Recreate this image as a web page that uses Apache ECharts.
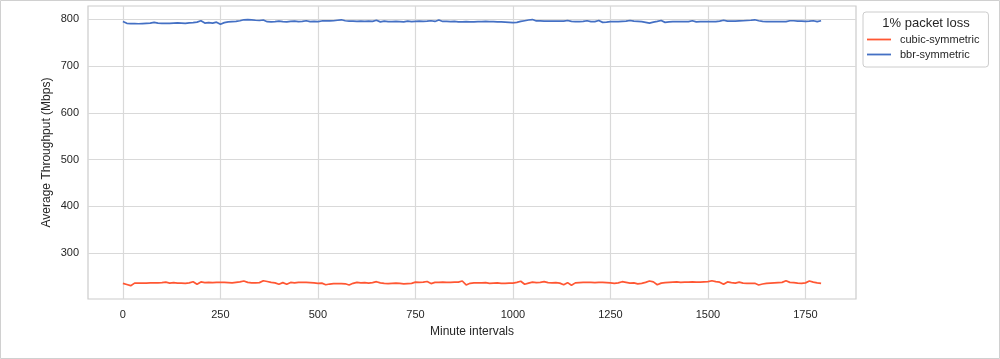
<!DOCTYPE html>
<html><head><meta charset="utf-8">
<script src="https://cdn.jsdelivr.net/npm/echarts@6/dist/echarts.min.js"></script>
<style>html,body{margin:0;padding:0;background:#fff}#c{width:1000px;height:359px}</style>
</head><body><div id="c"></div>
<script>
const legendTitle = "1% packet loss";
const seriesNames = ["cubic-symmetric", "bbr-symmetric"];
const stepMinutes = 10;
const xTicks = [0, 250, 500, 750, 1000, 1250, 1500, 1750];
const yTicks = [300, 400, 500, 600, 700, 800];
const cubic = [
235.5,233,230.5,236,236,236,236,236.5,236.5,236.5,
237,238,236,237,236,236,235.5,236.5,239,233.5,
238.5,237,237.5,237,237.5,237.5,237.5,237,236.5,237.5,
238.5,240.5,237.5,236.5,236.5,237,241,239.5,237.5,236.5,
233.5,237,233.5,237.5,236.5,237.5,237.5,237.5,237,236.5,
235.5,236,232.5,234,235,235,235,234.5,232,235.5,
237.5,236.5,237,236,237,239,236.5,235.5,235,235.5,
236,235.5,234.5,235,235.5,238,237.5,238,239.5,235,
237.5,237.5,238,237.5,237.5,238,238,240.5,232,235.5,
236.5,236.5,236.5,237,235.5,236,236.5,235.5,235.5,236,
236,237.5,240,233.5,236,238,237,237.5,239,237,
236.5,237,236,232.5,237,231.5,236.5,237,237.5,237.5,
237.5,237,237.5,237.5,237,236.5,235.5,236.5,239,237.5,
236,236.5,234.5,235.5,237.5,240.5,238.5,232.5,236,237,
237.5,238,238.5,237.5,238,238,238.5,238,238,238.5,
239,241,239,238,233.5,238.5,237,236,238,236,
235.5,235.5,235.5,232,234,235.5,236,236.5,237,237.5,
241,237.5,237,236,235.5,236.5,240.5,238,236.5,235.5
];
const bbr = [
795.5,791.5,791,791,790.5,791,791.5,792,793.5,792,
791.5,791.5,791.5,792,792.5,792,791.5,792.5,793,794,
797,792,793,792,794,789.5,793,794.5,795,795.5,
797,799,799.5,799,798,797.5,798.5,795,794.5,795,
796,795,794.5,795.5,796,795,795.5,797,795,795.5,
795,796.5,797,796.5,797,798,799,797,796,796,
795.5,796,795.5,796,795.5,798,794.5,796,795,795,
795.5,795,794.5,796,795,795.5,796,795.5,796,797,
795.5,798.5,795.5,795.5,795,795.5,794.5,794.5,795,794.5,
794.5,795,795,795.5,795,795,794.5,794.5,794,793.5,
793,793.5,795.5,797,798.5,799.5,796.5,796.5,796,796,
796,796,796,796,797.5,795.5,795,795,795.5,797,
795,795,797.5,793.5,794,795,795,795,795.5,796,
797.5,796,795.5,795,793.5,792,794,795.5,797.5,793.5,
794.5,795,795,795,795,795,797,794.5,795,795,
795,795,795,796,798,796,796,796,796.5,797,
797.5,798,799,797,795.5,795,795,795,795,795,
795,797,797,796,796,795.5,796,797,795,797
];

const txt = '#262626';
const font = '"Liberation Sans", Arial, sans-serif';
const chart = echarts.init(document.getElementById('c'), null, {renderer: 'canvas'});
const toXY = arr => arr.map((v, i) => [i * stepMinutes, v]);
chart.setOption({
  animation: false,
  backgroundColor: '#fff',
  textStyle: {fontFamily: font, color: txt},
  grid: {left: 88, right: 144, top: 6, bottom: 60, show: true, borderColor: '#cccccc', borderWidth: 1.2},
  xAxis: {
    type: 'value', min: -89.5, max: 1879.5,
    name: 'Minute intervals', nameLocation: 'middle', nameGap: 27, nameMoveOverlap: false,
    nameTextStyle: {fontSize: 12, color: txt, fontFamily: font},
    axisLine: {show: false}, axisTick: {show: false, customValues: xTicks},
    axisLabel: {customValues: xTicks, fontSize: 11, color: txt, margin: 10, fontFamily: font,
      formatter: v => String(v)},
    splitLine: {show: true, lineStyle: {color: '#d9d9d9', width: 1.2}}
  },
  yAxis: {
    type: 'value', min: 202, max: 828.5,
    name: 'Average Throughput (Mbps)', nameLocation: 'middle', nameGap: 35, nameMoveOverlap: false,
    nameTextStyle: {fontSize: 12, color: txt, fontFamily: font},
    axisLine: {show: false}, axisTick: {show: false, customValues: yTicks},
    axisLabel: {customValues: yTicks, fontSize: 11, color: txt, margin: 9, fontFamily: font,
      formatter: v => String(v)},
    splitLine: {show: true, lineStyle: {color: '#d9d9d9', width: 1.2}}
  },
  legend: {
    orient: 'vertical', left: 863, top: 12,
    padding: [22, 9, 7, 4], itemGap: 4, itemWidth: 24, itemHeight: 12,
    borderColor: '#cccccc', borderWidth: 1, borderRadius: 3,
    textStyle: {fontSize: 11, color: txt, fontFamily: font, padding: [0, 0, 0, 4]},
    data: seriesNames.map(n => ({name: n, icon: 'path://M0,5.1 L24,5.1 L24,6.9 L0,6.9 Z'}))
  },
  graphic: [
    {type: 'rect', shape: {x: 0.5, y: 0.5, width: 999, height: 358}, style: {fill: 'none', stroke: '#d0d0d0', lineWidth: 1}, silent: true},
    {type: 'text', x: 926, y: 23, style: {text: legendTitle, font: '13px ' + font, fill: txt, textAlign: 'center', textVerticalAlign: 'middle'}}
  ],
  series: [
    {name: seriesNames[0], type: 'line', data: toXY(cubic), showSymbol: false, symbol: 'none',
     lineStyle: {color: '#ff5733', width: 1.7}, itemStyle: {color: '#ff5733'}},
    {name: seriesNames[1], type: 'line', data: toXY(bbr), showSymbol: false, symbol: 'none',
     lineStyle: {color: '#4470c4', width: 1.7}, itemStyle: {color: '#4470c4'}}
  ]
});
</script></body></html>
